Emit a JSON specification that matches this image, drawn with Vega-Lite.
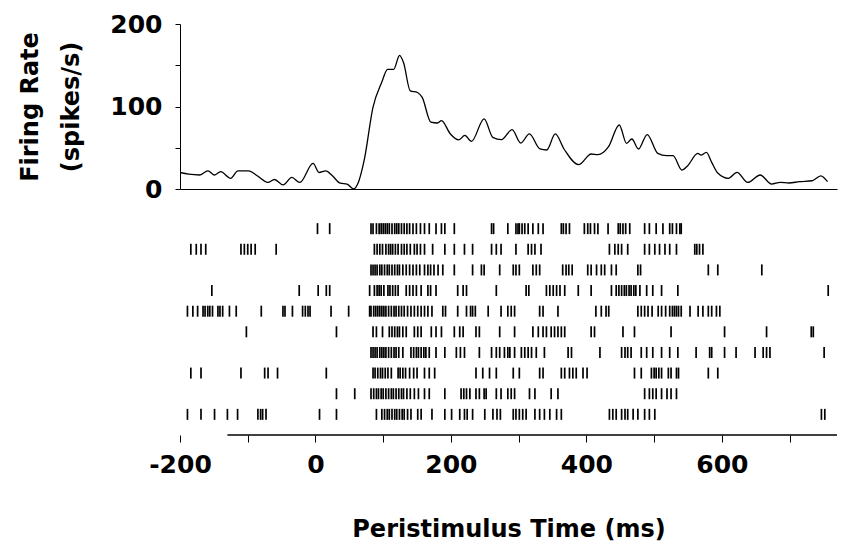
{
  "$schema": "https://vega.github.io/schema/vega-lite/v6.json",
  "background": "white",
  "padding": {"left": 18, "top": 12, "right": 2, "bottom": 8},
  "spacing": 6,
  "config": {
    "view": {"stroke": null},
    "font": "DejaVu Sans",
    "axis": {
      "labelFont": "DejaVu Sans", "labelFontWeight": "bold", "labelFontSize": 25, "labelColor": "black",
      "titleFont": "DejaVu Sans", "titleFontWeight": "bold", "titleFontSize": 24, "titleColor": "black",
      "domainColor": "black", "tickColor": "black", "grid": false
    }
  },
  "datasets": {
    "rate": [
      {"t": -200, "rate": 20}, {"t": -187.2, "rate": 18}, {"t": -171.5, "rate": 17}, {"t": -158.7, "rate": 22},
      {"t": -148.9, "rate": 17}, {"t": -140, "rate": 21}, {"t": -125.3, "rate": 13}, {"t": -114.5, "rate": 22},
      {"t": -98.8, "rate": 22}, {"t": -86, "rate": 16}, {"t": -70.3, "rate": 8}, {"t": -60.5, "rate": 11.5},
      {"t": -47.7, "rate": 5}, {"t": -34.9, "rate": 14}, {"t": -23.2, "rate": 8}, {"t": -3.5, "rate": 31},
      {"t": 5.3, "rate": 20}, {"t": 15.2, "rate": 22}, {"t": 25, "rate": 16}, {"t": 36.8, "rate": 7},
      {"t": 46.6, "rate": 6}, {"t": 56.4, "rate": 0}, {"t": 62.3, "rate": 6}, {"t": 72.2, "rate": 36},
      {"t": 84.9, "rate": 99}, {"t": 97.7, "rate": 129}, {"t": 106.5, "rate": 145}, {"t": 115.4, "rate": 145},
      {"t": 124.2, "rate": 162}, {"t": 130.1, "rate": 153}, {"t": 139.9, "rate": 119}, {"t": 150.7, "rate": 117},
      {"t": 157.6, "rate": 111}, {"t": 170.4, "rate": 81}, {"t": 180.2, "rate": 80}, {"t": 186.1, "rate": 83},
      {"t": 198.9, "rate": 67}, {"t": 211.7, "rate": 59.5}, {"t": 220.5, "rate": 65}, {"t": 230.3, "rate": 57.7},
      {"t": 249, "rate": 85}, {"t": 261.8, "rate": 62.6}, {"t": 274.5, "rate": 59.8}, {"t": 290.3, "rate": 71.9},
      {"t": 303, "rate": 55.7}, {"t": 315.8, "rate": 66.7}, {"t": 331.5, "rate": 48.5}, {"t": 341.4, "rate": 47.3},
      {"t": 354.1, "rate": 66.7}, {"t": 366.9, "rate": 48.5}, {"t": 388.5, "rate": 29.5}, {"t": 407.2, "rate": 42.4},
      {"t": 417, "rate": 41.6}, {"t": 432.7, "rate": 51.3}, {"t": 448.5, "rate": 77.6}, {"t": 459.3, "rate": 55.3},
      {"t": 467.1, "rate": 60.6}, {"t": 476.9, "rate": 48.5}, {"t": 489.7, "rate": 66}, {"t": 505.4, "rate": 43.2},
      {"t": 518.2, "rate": 40.4}, {"t": 528, "rate": 40.4}, {"t": 540.8, "rate": 23}, {"t": 549.6, "rate": 28.3},
      {"t": 564.4, "rate": 43.2}, {"t": 569.3, "rate": 41}, {"t": 577.1, "rate": 44.4}, {"t": 585, "rate": 32.3},
      {"t": 593.9, "rate": 19.4}, {"t": 609.6, "rate": 13}, {"t": 622.4, "rate": 20.2}, {"t": 638.1, "rate": 8},
      {"t": 656.7, "rate": 17}, {"t": 673.4, "rate": 6}, {"t": 686.2, "rate": 8}, {"t": 699, "rate": 7.3},
      {"t": 714.7, "rate": 8.9}, {"t": 733.4, "rate": 10}, {"t": 746.1, "rate": 16}, {"t": 756, "rate": 8.9}
    ],
    "spikes": [
      {"trial":1,"t":3},{"trial":1,"t":21},{"trial":1,"t":82},{"trial":1,"t":85},{"trial":1,"t":90},{"trial":1,"t":94},{"trial":1,"t":97},{"trial":1,"t":100},{"trial":1,"t":103},{"trial":1,"t":106},{"trial":1,"t":109},{"trial":1,"t":113},{"trial":1,"t":117},{"trial":1,"t":120},{"trial":1,"t":123},{"trial":1,"t":127},{"trial":1,"t":131},{"trial":1,"t":135},{"trial":1,"t":139},{"trial":1,"t":144},{"trial":1,"t":149},{"trial":1,"t":155},{"trial":1,"t":161},{"trial":1,"t":168},{"trial":1,"t":178},{"trial":1,"t":186},{"trial":1,"t":191},{"trial":1,"t":205},{"trial":1,"t":260},{"trial":1,"t":263},{"trial":1,"t":284},{"trial":1,"t":296},{"trial":1,"t":299},{"trial":1,"t":301},{"trial":1,"t":305},{"trial":1,"t":309},{"trial":1,"t":314},{"trial":1,"t":321},{"trial":1,"t":329},{"trial":1,"t":336},{"trial":1,"t":363},{"trial":1,"t":366},{"trial":1,"t":370},{"trial":1,"t":375},{"trial":1,"t":397},{"trial":1,"t":402},{"trial":1,"t":406},{"trial":1,"t":412},{"trial":1,"t":417},{"trial":1,"t":432},{"trial":1,"t":447},{"trial":1,"t":450},{"trial":1,"t":454},{"trial":1,"t":458},{"trial":1,"t":464},{"trial":1,"t":486},{"trial":1,"t":493},{"trial":1,"t":503},{"trial":1,"t":513},{"trial":1,"t":523},{"trial":1,"t":527},{"trial":1,"t":533},{"trial":1,"t":538},{"trial":1,"t":540},
      {"trial":2,"t":-184},{"trial":2,"t":-176},{"trial":2,"t":-169},{"trial":2,"t":-162},{"trial":2,"t":-110},{"trial":2,"t":-105},{"trial":2,"t":-100},{"trial":2,"t":-95},{"trial":2,"t":-89},{"trial":2,"t":-58},{"trial":2,"t":87},{"trial":2,"t":91},{"trial":2,"t":95},{"trial":2,"t":99},{"trial":2,"t":104},{"trial":2,"t":108},{"trial":2,"t":111},{"trial":2,"t":114},{"trial":2,"t":118},{"trial":2,"t":122},{"trial":2,"t":127},{"trial":2,"t":131},{"trial":2,"t":135},{"trial":2,"t":140},{"trial":2,"t":146},{"trial":2,"t":150},{"trial":2,"t":155},{"trial":2,"t":161},{"trial":2,"t":173},{"trial":2,"t":191},{"trial":2,"t":205},{"trial":2,"t":220},{"trial":2,"t":232},{"trial":2,"t":260},{"trial":2,"t":267},{"trial":2,"t":274},{"trial":2,"t":296},{"trial":2,"t":314},{"trial":2,"t":319},{"trial":2,"t":324},{"trial":2,"t":333},{"trial":2,"t":434},{"trial":2,"t":442},{"trial":2,"t":447},{"trial":2,"t":452},{"trial":2,"t":461},{"trial":2,"t":486},{"trial":2,"t":493},{"trial":2,"t":501},{"trial":2,"t":508},{"trial":2,"t":516},{"trial":2,"t":523},{"trial":2,"t":533},{"trial":2,"t":560},{"trial":2,"t":563},{"trial":2,"t":567},{"trial":2,"t":572},
      {"trial":3,"t":82},{"trial":3,"t":85},{"trial":3,"t":88},{"trial":3,"t":91},{"trial":3,"t":95},{"trial":3,"t":98},{"trial":3,"t":102},{"trial":3,"t":106},{"trial":3,"t":109},{"trial":3,"t":113},{"trial":3,"t":117},{"trial":3,"t":121},{"trial":3,"t":124},{"trial":3,"t":129},{"trial":3,"t":134},{"trial":3,"t":139},{"trial":3,"t":144},{"trial":3,"t":149},{"trial":3,"t":154},{"trial":3,"t":161},{"trial":3,"t":166},{"trial":3,"t":170},{"trial":3,"t":175},{"trial":3,"t":181},{"trial":3,"t":188},{"trial":3,"t":205},{"trial":3,"t":232},{"trial":3,"t":245},{"trial":3,"t":249},{"trial":3,"t":272},{"trial":3,"t":292},{"trial":3,"t":296},{"trial":3,"t":301},{"trial":3,"t":321},{"trial":3,"t":326},{"trial":3,"t":331},{"trial":3,"t":365},{"trial":3,"t":370},{"trial":3,"t":374},{"trial":3,"t":379},{"trial":3,"t":402},{"trial":3,"t":407},{"trial":3,"t":415},{"trial":3,"t":422},{"trial":3,"t":427},{"trial":3,"t":437},{"trial":3,"t":444},{"trial":3,"t":476},{"trial":3,"t":480},{"trial":3,"t":580},{"trial":3,"t":594},{"trial":3,"t":659},
      {"trial":4,"t":-153},{"trial":4,"t":-24},{"trial":4,"t":4},{"trial":4,"t":16},{"trial":4,"t":21},{"trial":4,"t":80},{"trial":4,"t":87},{"trial":4,"t":91},{"trial":4,"t":94},{"trial":4,"t":97},{"trial":4,"t":101},{"trial":4,"t":107},{"trial":4,"t":110},{"trial":4,"t":114},{"trial":4,"t":118},{"trial":4,"t":122},{"trial":4,"t":134},{"trial":4,"t":139},{"trial":4,"t":144},{"trial":4,"t":149},{"trial":4,"t":156},{"trial":4,"t":166},{"trial":4,"t":170},{"trial":4,"t":178},{"trial":4,"t":210},{"trial":4,"t":218},{"trial":4,"t":223},{"trial":4,"t":267},{"trial":4,"t":311},{"trial":4,"t":315},{"trial":4,"t":341},{"trial":4,"t":346},{"trial":4,"t":351},{"trial":4,"t":356},{"trial":4,"t":361},{"trial":4,"t":368},{"trial":4,"t":388},{"trial":4,"t":407},{"trial":4,"t":437},{"trial":4,"t":444},{"trial":4,"t":448},{"trial":4,"t":452},{"trial":4,"t":456},{"trial":4,"t":459},{"trial":4,"t":463},{"trial":4,"t":466},{"trial":4,"t":470},{"trial":4,"t":473},{"trial":4,"t":479},{"trial":4,"t":489},{"trial":4,"t":498},{"trial":4,"t":511},{"trial":4,"t":535},{"trial":4,"t":757},
      {"trial":5,"t":-189},{"trial":5,"t":-181},{"trial":5,"t":-174},{"trial":5,"t":-166},{"trial":5,"t":-163},{"trial":5,"t":-159},{"trial":5,"t":-156},{"trial":5,"t":-152},{"trial":5,"t":-144},{"trial":5,"t":-141},{"trial":5,"t":-137},{"trial":5,"t":-127},{"trial":5,"t":-117},{"trial":5,"t":-80},{"trial":5,"t":-48},{"trial":5,"t":-45},{"trial":5,"t":-34},{"trial":5,"t":-19},{"trial":5,"t":-15},{"trial":5,"t":-11},{"trial":5,"t":-8},{"trial":5,"t":23},{"trial":5,"t":49},{"trial":5,"t":80},{"trial":5,"t":82},{"trial":5,"t":86},{"trial":5,"t":89},{"trial":5,"t":92},{"trial":5,"t":95},{"trial":5,"t":98},{"trial":5,"t":101},{"trial":5,"t":104},{"trial":5,"t":108},{"trial":5,"t":112},{"trial":5,"t":116},{"trial":5,"t":119},{"trial":5,"t":123},{"trial":5,"t":127},{"trial":5,"t":131},{"trial":5,"t":136},{"trial":5,"t":141},{"trial":5,"t":146},{"trial":5,"t":151},{"trial":5,"t":156},{"trial":5,"t":161},{"trial":5,"t":166},{"trial":5,"t":172},{"trial":5,"t":188},{"trial":5,"t":192},{"trial":5,"t":210},{"trial":5,"t":223},{"trial":5,"t":229},{"trial":5,"t":232},{"trial":5,"t":236},{"trial":5,"t":255},{"trial":5,"t":274},{"trial":5,"t":284},{"trial":5,"t":289},{"trial":5,"t":294},{"trial":5,"t":331},{"trial":5,"t":336},{"trial":5,"t":358},{"trial":5,"t":414},{"trial":5,"t":422},{"trial":5,"t":429},{"trial":5,"t":433},{"trial":5,"t":476},{"trial":5,"t":481},{"trial":5,"t":486},{"trial":5,"t":491},{"trial":5,"t":497},{"trial":5,"t":506},{"trial":5,"t":511},{"trial":5,"t":517},{"trial":5,"t":523},{"trial":5,"t":527},{"trial":5,"t":530},{"trial":5,"t":533},{"trial":5,"t":536},{"trial":5,"t":540},{"trial":5,"t":553},{"trial":5,"t":565},{"trial":5,"t":572},{"trial":5,"t":580},{"trial":5,"t":585},{"trial":5,"t":592},{"trial":5,"t":597},
      {"trial":6,"t":-102},{"trial":6,"t":31},{"trial":6,"t":85},{"trial":6,"t":90},{"trial":6,"t":99},{"trial":6,"t":109},{"trial":6,"t":113},{"trial":6,"t":117},{"trial":6,"t":121},{"trial":6,"t":124},{"trial":6,"t":129},{"trial":6,"t":134},{"trial":6,"t":146},{"trial":6,"t":151},{"trial":6,"t":156},{"trial":6,"t":171},{"trial":6,"t":178},{"trial":6,"t":186},{"trial":6,"t":205},{"trial":6,"t":213},{"trial":6,"t":218},{"trial":6,"t":237},{"trial":6,"t":242},{"trial":6,"t":272},{"trial":6,"t":294},{"trial":6,"t":321},{"trial":6,"t":329},{"trial":6,"t":336},{"trial":6,"t":341},{"trial":6,"t":348},{"trial":6,"t":353},{"trial":6,"t":358},{"trial":6,"t":363},{"trial":6,"t":368},{"trial":6,"t":407},{"trial":6,"t":412},{"trial":6,"t":454},{"trial":6,"t":471},{"trial":6,"t":525},{"trial":6,"t":604},{"trial":6,"t":666},{"trial":6,"t":732},{"trial":6,"t":735},
      {"trial":7,"t":82},{"trial":7,"t":85},{"trial":7,"t":88},{"trial":7,"t":91},{"trial":7,"t":95},{"trial":7,"t":98},{"trial":7,"t":101},{"trial":7,"t":104},{"trial":7,"t":108},{"trial":7,"t":112},{"trial":7,"t":116},{"trial":7,"t":119},{"trial":7,"t":123},{"trial":7,"t":129},{"trial":7,"t":141},{"trial":7,"t":145},{"trial":7,"t":149},{"trial":7,"t":152},{"trial":7,"t":156},{"trial":7,"t":160},{"trial":7,"t":163},{"trial":7,"t":168},{"trial":7,"t":178},{"trial":7,"t":191},{"trial":7,"t":208},{"trial":7,"t":214},{"trial":7,"t":220},{"trial":7,"t":242},{"trial":7,"t":260},{"trial":7,"t":267},{"trial":7,"t":272},{"trial":7,"t":279},{"trial":7,"t":284},{"trial":7,"t":287},{"trial":7,"t":294},{"trial":7,"t":304},{"trial":7,"t":309},{"trial":7,"t":314},{"trial":7,"t":319},{"trial":7,"t":326},{"trial":7,"t":338},{"trial":7,"t":373},{"trial":7,"t":378},{"trial":7,"t":420},{"trial":7,"t":452},{"trial":7,"t":457},{"trial":7,"t":461},{"trial":7,"t":466},{"trial":7,"t":481},{"trial":7,"t":489},{"trial":7,"t":498},{"trial":7,"t":511},{"trial":7,"t":523},{"trial":7,"t":535},{"trial":7,"t":562},{"trial":7,"t":582},{"trial":7,"t":585},{"trial":7,"t":604},{"trial":7,"t":621},{"trial":7,"t":649},{"trial":7,"t":661},{"trial":7,"t":666},{"trial":7,"t":671},{"trial":7,"t":751},
      {"trial":8,"t":-184},{"trial":8,"t":-169},{"trial":8,"t":-110},{"trial":8,"t":-75},{"trial":8,"t":-70},{"trial":8,"t":-56},{"trial":8,"t":16},{"trial":8,"t":85},{"trial":8,"t":88},{"trial":8,"t":92},{"trial":8,"t":96},{"trial":8,"t":99},{"trial":8,"t":103},{"trial":8,"t":107},{"trial":8,"t":112},{"trial":8,"t":122},{"trial":8,"t":125},{"trial":8,"t":129},{"trial":8,"t":133},{"trial":8,"t":139},{"trial":8,"t":145},{"trial":8,"t":150},{"trial":8,"t":161},{"trial":8,"t":168},{"trial":8,"t":176},{"trial":8,"t":237},{"trial":8,"t":247},{"trial":8,"t":257},{"trial":8,"t":267},{"trial":8,"t":292},{"trial":8,"t":301},{"trial":8,"t":331},{"trial":8,"t":336},{"trial":8,"t":363},{"trial":8,"t":368},{"trial":8,"t":375},{"trial":8,"t":380},{"trial":8,"t":385},{"trial":8,"t":395},{"trial":8,"t":401},{"trial":8,"t":471},{"trial":8,"t":481},{"trial":8,"t":496},{"trial":8,"t":500},{"trial":8,"t":503},{"trial":8,"t":507},{"trial":8,"t":511},{"trial":8,"t":521},{"trial":8,"t":525},{"trial":8,"t":533},{"trial":8,"t":536},{"trial":8,"t":580},{"trial":8,"t":594},
      {"trial":9,"t":31},{"trial":9,"t":58},{"trial":9,"t":82},{"trial":9,"t":86},{"trial":9,"t":90},{"trial":9,"t":93},{"trial":9,"t":97},{"trial":9,"t":100},{"trial":9,"t":104},{"trial":9,"t":108},{"trial":9,"t":112},{"trial":9,"t":115},{"trial":9,"t":119},{"trial":9,"t":123},{"trial":9,"t":127},{"trial":9,"t":130},{"trial":9,"t":135},{"trial":9,"t":140},{"trial":9,"t":146},{"trial":9,"t":152},{"trial":9,"t":161},{"trial":9,"t":168},{"trial":9,"t":191},{"trial":9,"t":215},{"trial":9,"t":219},{"trial":9,"t":223},{"trial":9,"t":228},{"trial":9,"t":237},{"trial":9,"t":242},{"trial":9,"t":249},{"trial":9,"t":252},{"trial":9,"t":267},{"trial":9,"t":274},{"trial":9,"t":284},{"trial":9,"t":289},{"trial":9,"t":294},{"trial":9,"t":316},{"trial":9,"t":324},{"trial":9,"t":348},{"trial":9,"t":358},{"trial":9,"t":486},{"trial":9,"t":493},{"trial":9,"t":498},{"trial":9,"t":503},{"trial":9,"t":511},{"trial":9,"t":519},{"trial":9,"t":525},{"trial":9,"t":533},
      {"trial":10,"t":-189},{"trial":10,"t":-169},{"trial":10,"t":-149},{"trial":10,"t":-130},{"trial":10,"t":-115},{"trial":10,"t":-85},{"trial":10,"t":-81},{"trial":10,"t":-78},{"trial":10,"t":-73},{"trial":10,"t":6},{"trial":10,"t":31},{"trial":10,"t":90},{"trial":10,"t":98},{"trial":10,"t":102},{"trial":10,"t":106},{"trial":10,"t":109},{"trial":10,"t":113},{"trial":10,"t":117},{"trial":10,"t":120},{"trial":10,"t":124},{"trial":10,"t":128},{"trial":10,"t":131},{"trial":10,"t":136},{"trial":10,"t":141},{"trial":10,"t":151},{"trial":10,"t":156},{"trial":10,"t":172},{"trial":10,"t":191},{"trial":10,"t":201},{"trial":10,"t":213},{"trial":10,"t":220},{"trial":10,"t":224},{"trial":10,"t":232},{"trial":10,"t":250},{"trial":10,"t":262},{"trial":10,"t":268},{"trial":10,"t":273},{"trial":10,"t":292},{"trial":10,"t":296},{"trial":10,"t":301},{"trial":10,"t":306},{"trial":10,"t":311},{"trial":10,"t":324},{"trial":10,"t":331},{"trial":10,"t":338},{"trial":10,"t":346},{"trial":10,"t":356},{"trial":10,"t":363},{"trial":10,"t":434},{"trial":10,"t":439},{"trial":10,"t":444},{"trial":10,"t":452},{"trial":10,"t":457},{"trial":10,"t":461},{"trial":10,"t":469},{"trial":10,"t":476},{"trial":10,"t":486},{"trial":10,"t":493},{"trial":10,"t":501},{"trial":10,"t":747},{"trial":10,"t":752}
    ]
  },
  "vconcat": [
    {
      "width": 657,
      "height": 165,
      "data": {"name": "rate"},
      "mark": {"type": "line", "color": "black", "strokeWidth": 1.3, "interpolate": "monotone"},
      "encoding": {
        "x": {
          "field": "t", "type": "quantitative",
          "scale": {"domain": [-200, 770], "nice": false, "zero": false},
          "axis": {"title": null, "labels": false, "ticks": false, "domainWidth": 1}
        },
        "y": {
          "field": "rate", "type": "quantitative",
          "scale": {"domain": [0, 200], "nice": false},
          "axis": {
            "title": ["Firing Rate", "(spikes/s)"],
            "titleLineHeight": 41,
            "titlePadding": 26,
            "values": [0, 50, 100, 150, 200],
            "labelExpr": "datum.value % 100 == 0 ? '' + datum.value : ''",
            "tickSize": 5,
            "labelPadding": 13,
            "domainWidth": 1
          }
        }
      }
    },
    {
      "width": 657,
      "height": 227,
      "layer": [
        {
          "data": {"name": "spikes"},
          "mark": {"type": "tick", "orient": "vertical", "color": "black", "opacity": 1, "thickness": 1.7, "size": 11},
          "encoding": {
            "x": {
              "field": "t", "type": "quantitative",
              "scale": {"domain": [-200, 770], "nice": false, "zero": false},
              "axis": {
                "title": "Peristimulus Time (ms)",
                "values": [-200, -100, 0, 100, 200, 300, 400, 500, 600, 700],
                "labelExpr": "datum.value % 200 == 0 ? '' + datum.value : ''",
                "labelFlush": false,
                "tickSize": 7,
                "labelPadding": 10,
                "titlePadding": 40,
                "domain": false
              }
            },
            "y": {
              "field": "trial", "type": "quantitative",
              "scale": {"domain": [0, 11], "reverse": true, "nice": false, "zero": false},
              "axis": null
            }
          }
        },
        {
          "data": {"values": [{}]},
          "mark": {"type": "rule", "color": "black", "strokeWidth": 1.5},
          "encoding": {
            "x": {"datum": -130, "type": "quantitative"},
            "x2": {"datum": 770},
            "y": {"datum": 11, "type": "quantitative"}
          }
        }
      ]
    }
  ]
}
